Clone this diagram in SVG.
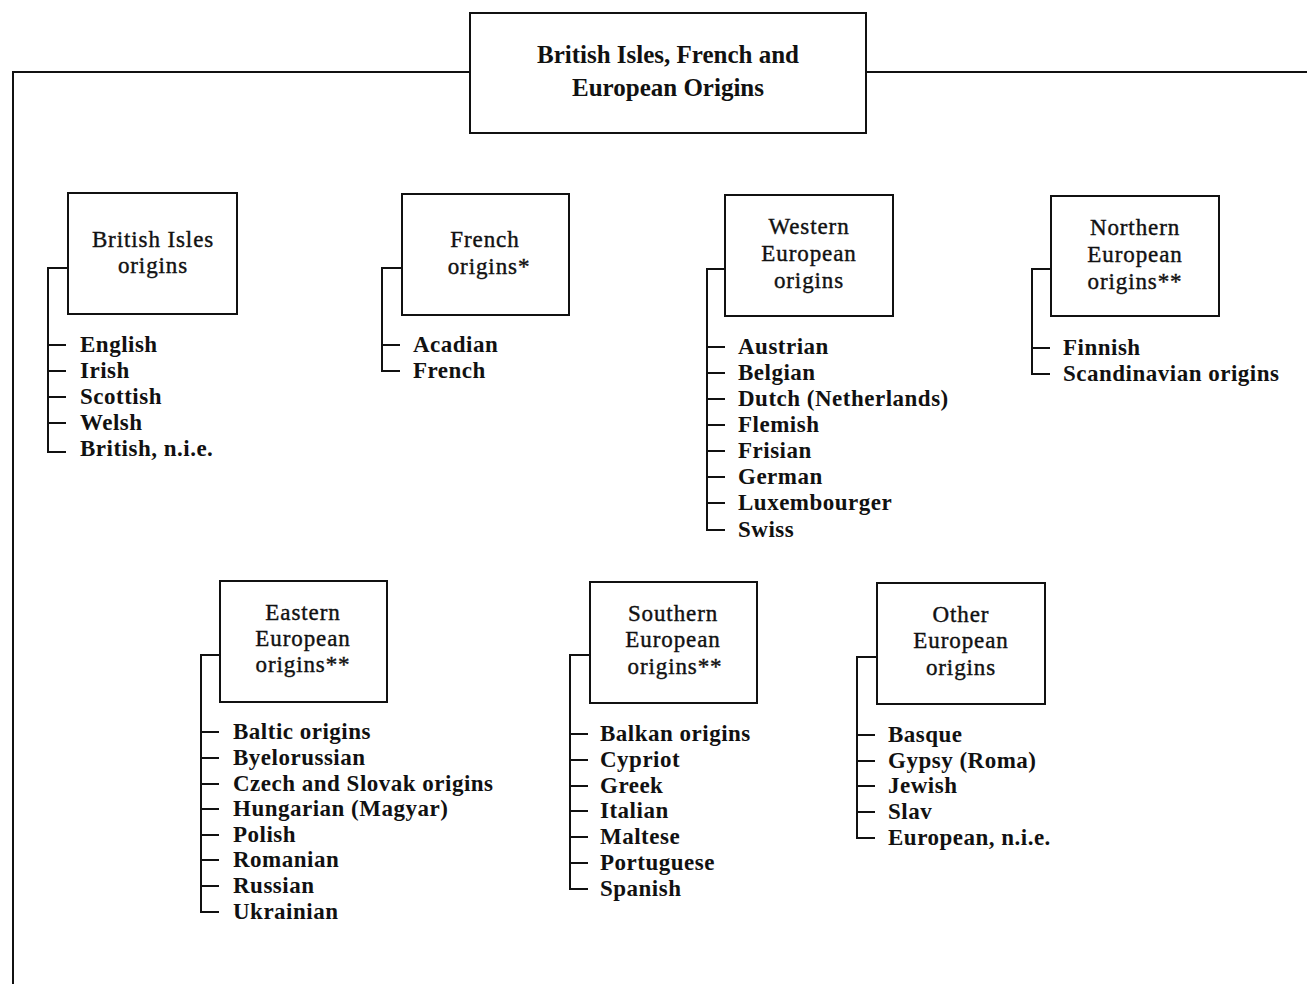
<svg xmlns="http://www.w3.org/2000/svg" width="1307" height="984" viewBox="0 0 1307 984">
  <style>
    .box { fill: #fff; stroke: #111; stroke-width: 2; }
    .ln { fill: none; stroke: #111; stroke-width: 2; }
    .title { font-family: "Liberation Serif", "Times New Roman", serif; font-size: 25px; font-weight: bold; fill: #111; text-anchor: middle; }
    .lbl { font-family: "Liberation Serif", "Times New Roman", serif; font-size: 23px; fill: #111; stroke: #111; stroke-width: 0.4px; text-anchor: middle; letter-spacing: 0.9px; }
    .item { font-family: "Liberation Serif", "Times New Roman", serif; font-size: 23px; font-weight: bold; fill: #111; letter-spacing: 0.5px; }
  </style>
  <rect width="1307" height="984" fill="#fff"/>

  <!-- connectors -->
  <g id="connectors" class="ln">
    <path d="M470 72 H13 V984"/>
    <path d="M866 72 H1307"/>
    <!-- British Isles -->
    <path d="M68 268 H48 V452 H66"/>
    <path d="M48 345 H66 M48 371 H66 M48 397 H66 M48 423 H66"/>
    <!-- French -->
    <path d="M402 268 H382 V371 H400"/>
    <path d="M382 345 H400"/>
    <!-- Western -->
    <path d="M725 269 H707 V530 H725"/>
    <path d="M707 347 H725 M707 373 H725 M707 399 H725 M707 425 H725 M707 451 H725 M707 477 H725 M707 503 H725"/>
    <!-- Northern -->
    <path d="M1051 269 H1032 V374 H1050"/>
    <path d="M1032 348 H1050"/>
    <!-- Eastern -->
    <path d="M220 655 H201 V912 H219"/>
    <path d="M201 732 H219 M201 758 H219 M201 784 H219 M201 809 H219 M201 835 H219 M201 860 H219 M201 886 H219"/>
    <!-- Southern -->
    <path d="M590 655 H570 V889 H588"/>
    <path d="M570 734 H588 M570 760 H588 M570 786 H588 M570 811 H588 M570 837 H588 M570 863 H588"/>
    <!-- Other -->
    <path d="M877 657 H857 V838 H875"/>
    <path d="M857 735 H875 M857 761 H875 M857 786 H875 M857 812 H875"/>
  </g>

  <!-- root -->
  <g id="root">
    <rect class="box" x="470" y="13" width="396" height="120"/>
    <text class="title" x="668" y="63">British Isles, French and</text>
    <text class="title" x="668" y="96">European Origins</text>
  </g>

  <g id="british-isles">
    <rect class="box" x="68" y="193" width="169" height="121"/>
    <text class="lbl" x="153" y="247">British Isles</text>
    <text class="lbl" x="153" y="273">origins</text>
    <text class="item" x="80" y="352">English</text>
    <text class="item" x="80" y="378">Irish</text>
    <text class="item" x="80" y="404">Scottish</text>
    <text class="item" x="80" y="430">Welsh</text>
    <text class="item" x="80" y="456">British, n.i.e.</text>
  </g>

  <g id="french">
    <rect class="box" x="402" y="194" width="167" height="121"/>
    <text class="lbl" x="485" y="247">French</text>
    <text class="lbl" x="489" y="274">origins*</text>
    <text class="item" x="413" y="352">Acadian</text>
    <text class="item" x="413" y="378">French</text>
  </g>

  <g id="western">
    <rect class="box" x="725" y="195" width="168" height="121"/>
    <text class="lbl" x="809" y="234">Western</text>
    <text class="lbl" x="809" y="261">European</text>
    <text class="lbl" x="809" y="288">origins</text>
    <text class="item" x="738" y="354">Austrian</text>
    <text class="item" x="738" y="380">Belgian</text>
    <text class="item" x="738" y="406">Dutch (Netherlands)</text>
    <text class="item" x="738" y="432">Flemish</text>
    <text class="item" x="738" y="458">Frisian</text>
    <text class="item" x="738" y="484">German</text>
    <text class="item" x="738" y="510">Luxembourger</text>
    <text class="item" x="738" y="537">Swiss</text>
  </g>

  <g id="northern">
    <rect class="box" x="1051" y="196" width="168" height="120"/>
    <text class="lbl" x="1135" y="235">Northern</text>
    <text class="lbl" x="1135" y="262">European</text>
    <text class="lbl" x="1135" y="289">origins**</text>
    <text class="item" x="1063" y="355">Finnish</text>
    <text class="item" x="1063" y="381">Scandinavian origins</text>
  </g>

  <g id="eastern">
    <rect class="box" x="220" y="581" width="167" height="121"/>
    <text class="lbl" x="303" y="620">Eastern</text>
    <text class="lbl" x="303" y="646">European</text>
    <text class="lbl" x="303" y="672">origins**</text>
    <text class="item" x="233" y="739">Baltic origins</text>
    <text class="item" x="233" y="765">Byelorussian</text>
    <text class="item" x="233" y="791">Czech and Slovak origins</text>
    <text class="item" x="233" y="816">Hungarian (Magyar)</text>
    <text class="item" x="233" y="842">Polish</text>
    <text class="item" x="233" y="867">Romanian</text>
    <text class="item" x="233" y="893">Russian</text>
    <text class="item" x="233" y="919">Ukrainian</text>
  </g>

  <g id="southern">
    <rect class="box" x="590" y="582" width="167" height="121"/>
    <text class="lbl" x="673" y="621">Southern</text>
    <text class="lbl" x="673" y="647">European</text>
    <text class="lbl" x="675" y="674">origins**</text>
    <text class="item" x="600" y="741">Balkan origins</text>
    <text class="item" x="600" y="767">Cypriot</text>
    <text class="item" x="600" y="793">Greek</text>
    <text class="item" x="600" y="818">Italian</text>
    <text class="item" x="600" y="844">Maltese</text>
    <text class="item" x="600" y="870">Portuguese</text>
    <text class="item" x="600" y="896">Spanish</text>
  </g>

  <g id="other">
    <rect class="box" x="877" y="583" width="168" height="121"/>
    <text class="lbl" x="961" y="622">Other</text>
    <text class="lbl" x="961" y="648">European</text>
    <text class="lbl" x="961" y="675">origins</text>
    <text class="item" x="888" y="742">Basque</text>
    <text class="item" x="888" y="768">Gypsy (Roma)</text>
    <text class="item" x="888" y="793">Jewish</text>
    <text class="item" x="888" y="819">Slav</text>
    <text class="item" x="888" y="845">European, n.i.e.</text>
  </g>
</svg>
